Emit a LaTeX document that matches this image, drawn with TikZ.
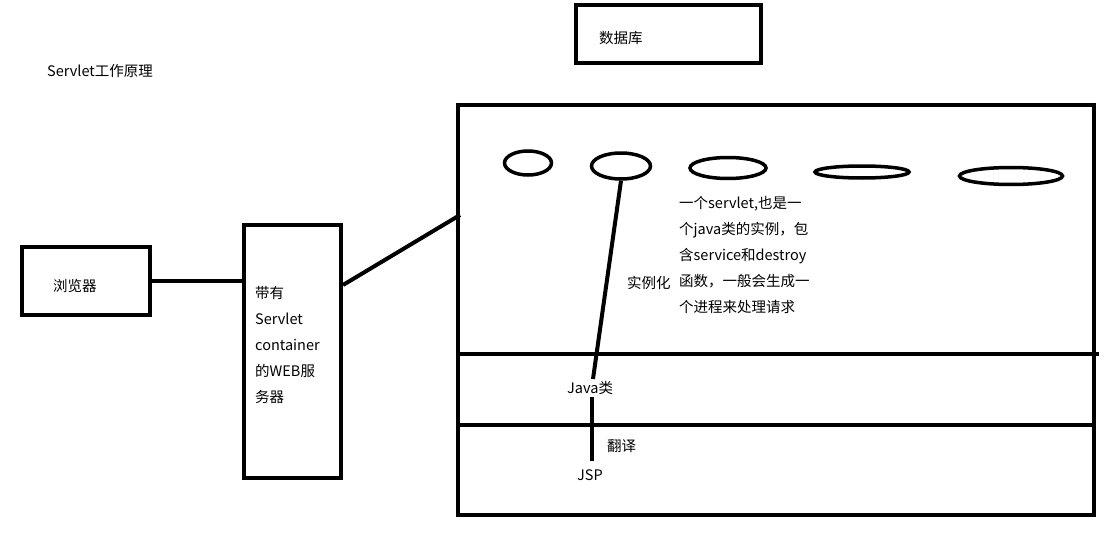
\documentclass[tikz,border=0pt]{standalone}
\usepackage{fontspec}
\setmainfont{Noto Sans CJK SC}
\usetikzlibrary{shapes.geometric,calc}
\tikzset{
  box/.style={draw, line width=4pt, rectangle, inner sep=0pt},
  oval/.style={draw, line width=3.5pt, ellipse, inner sep=0pt},
  conn/.style={line width=4pt},
  txt/.style={inner sep=0pt, anchor=base west, font=\fontsize{14.5}{26}\selectfont},
  para/.style={inner sep=0pt, anchor=north west, align=left, font=\fontsize{14.5}{26}\selectfont}
}
\begin{document}
\begin{tikzpicture}[x=1pt,y=-1pt]
\useasboundingbox[fill=white] (0,0) rectangle (1106,535);
% title
\node[txt] (title) at (47,76.5) {Servlet工作原理};
% boxes
\node[box, minimum width=185pt, minimum height=58pt] (db) at (668.5,34) {};
\node[txt] (dbt) at (599,43.5) {数据库};
\node[box, minimum width=128pt, minimum height=68pt] (browser) at (86,281) {};
\node[txt] (brt) at (53,291.5) {浏览器};
\node[box, minimum width=97pt, minimum height=253pt] (web) at (292.5,351.5) {};
\node[para] (webt) at (255,286) {带有\\Servlet\\container\\的WEB服\\务器};
\node[box, minimum width=636pt, minimum height=410pt] (big) at (776,310) {};
% ellipses
\node[oval, minimum width=47pt, minimum height=24pt] (e1) at (528,163) {};
\node[oval, minimum width=59pt, minimum height=26pt] (e2) at (621,166) {};
\node[oval, minimum width=76pt, minimum height=21pt] (e3) at (728,168) {};
\node[oval, minimum width=94pt, minimum height=12pt] (e4) at (862,172) {};
\node[oval, minimum width=103pt, minimum height=17pt] (e5) at (1011,176) {};
% texts
\node[para] (desc) at (679,196) {一个servlet,也是一\\个java类的实例，包\\含service和destroy\\函数，一般会生成一\\个进程来处理请求};
\node[txt] (inst) at (627,288.5) {实例化};
\node[txt] (java) at (567,393) {Java类};
\node[txt] (trans) at (607,451) {翻译};
\node[txt] (jsp) at (577,480.5) {JSP};
% dividers
\coordinate (d1r) at (1099,354);
\coordinate (d2r) at (1094,425);
\draw[conn] (big.west |- d1r) -- (d1r);
\draw[conn] (big.west |- d2r) -- (d2r);
% connectors
\draw[conn] (browser.east) -- (web.west |- browser.east);
\coordinate (wa) at (343,285);
\coordinate (wb) at (460,215);
\draw[conn] (wa) -- (wb);
\coordinate (jt) at (593,379);
\draw[conn] (e2.south) -- (jt);
\coordinate (js1) at (592,397);
\coordinate (js2) at (592,461);
\draw[conn] (js1) -- (js2);
\end{tikzpicture}
\end{document}
